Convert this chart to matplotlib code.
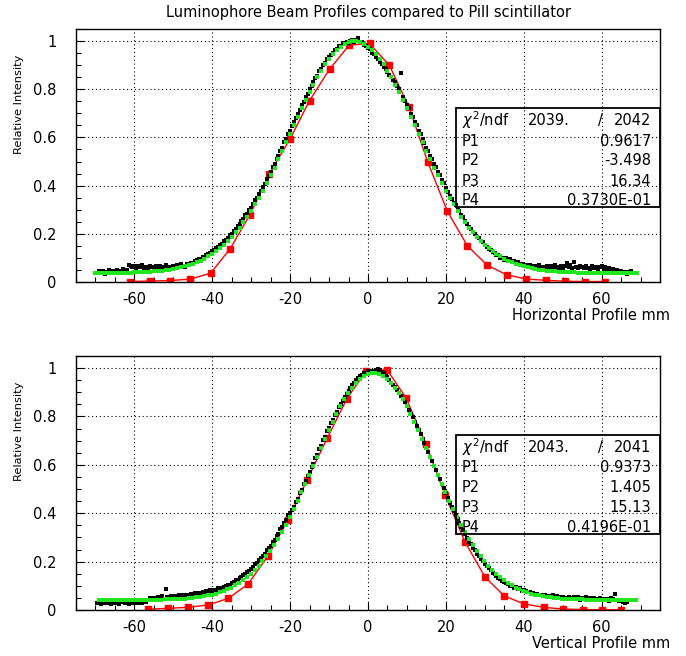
import numpy as np
import matplotlib
matplotlib.use('Agg')
import matplotlib.pyplot as plt
from matplotlib.ticker import MultipleLocator, FuncFormatter

# ---------------- data ----------------
title = 'Luminophore Beam Profiles compared to Pill scintillator'

# horizontal profile (top)
h_black_x = np.arange(-69.5, 68.0, 0.5)
h_black_y = [
    0.036, 0.044, 0.040, 0.047, 0.035, 0.043, 0.049, 0.038, 0.045, 0.041,
    0.048, 0.039, 0.046, 0.052, 0.043, 0.050, 0.072, 0.066, 0.061, 0.068,
    0.058, 0.066, 0.061, 0.070, 0.057, 0.064, 0.059, 0.067, 0.062, 0.056,
    0.065, 0.060, 0.068, 0.057, 0.063, 0.071, 0.059, 0.064, 0.061, 0.067,
    0.062, 0.069, 0.066, 0.073, 0.068, 0.064, 0.074, 0.070, 0.077, 0.079,
    0.086, 0.090, 0.094, 0.097, 0.105, 0.104, 0.113, 0.117, 0.121, 0.128,
    0.133, 0.142, 0.145, 0.155, 0.158, 0.169, 0.176, 0.181, 0.193, 0.199,
    0.213, 0.219, 0.233, 0.240, 0.254, 0.260, 0.276, 0.284, 0.300, 0.309,
    0.322, 0.339, 0.349, 0.366, 0.378, 0.396, 0.407, 0.427, 0.439, 0.458,
    0.476, 0.488, 0.509, 0.522, 0.543, 0.557, 0.579, 0.592, 0.614, 0.628,
    0.646, 0.664, 0.679, 0.699, 0.714, 0.734, 0.748, 0.768, 0.782, 0.799,
    0.815, 0.828, 0.846, 0.857, 0.875, 0.885, 0.901, 0.910, 0.926, 0.932,
    0.944, 0.950, 0.962, 0.966, 0.978, 0.979, 0.990, 0.986, 0.997, 0.993,
    0.999, 1.003, 0.994, 1.006, 1.012, 0.996, 0.998, 0.985, 0.978, 0.972,
    0.966, 0.951, 0.948, 0.934, 0.927, 0.911, 0.905, 0.893, 0.884, 0.872,
    0.861, 0.852, 0.838, 0.829, 0.812, 0.799, 0.869, 0.766, 0.752, 0.733,
    0.721, 0.699, 0.685, 0.663, 0.650, 0.628, 0.614, 0.592, 0.578, 0.557,
    0.543, 0.522, 0.509, 0.488, 0.476, 0.455, 0.443, 0.423, 0.411, 0.392,
    0.375, 0.355, 0.346, 0.328, 0.318, 0.301, 0.293, 0.276, 0.268, 0.253,
    0.240, 0.229, 0.221, 0.207, 0.201, 0.188, 0.183, 0.170, 0.166, 0.155,
    0.146, 0.137, 0.134, 0.124, 0.121, 0.113, 0.111, 0.101, 0.100, 0.093,
    0.098, 0.092, 0.094, 0.086, 0.087, 0.079, 0.082, 0.074, 0.076, 0.068,
    0.072, 0.064, 0.069, 0.061, 0.067, 0.059, 0.066, 0.070, 0.058, 0.064,
    0.061, 0.068, 0.057, 0.065, 0.059, 0.071, 0.062, 0.056, 0.066, 0.060,
    0.067, 0.079, 0.063, 0.070, 0.058, 0.082, 0.064, 0.059, 0.068, 0.061,
    0.057, 0.065, 0.060, 0.054, 0.066, 0.058, 0.063, 0.055, 0.061, 0.068,
    0.056, 0.062, 0.051, 0.058, 0.047, 0.053, 0.044, 0.049, 0.041, 0.046,
    0.038, 0.043, 0.035, 0.041, 0.046,
]
h_fit_x = np.arange(-70, 70, 1.0)
h_fit_y = [
    0.0376, 0.0377, 0.0377, 0.0378, 0.0379, 0.0381, 0.0383, 0.0386, 0.0389, 0.0393,
    0.0397, 0.0403, 0.0410, 0.0418, 0.0428, 0.0440, 0.0454, 0.0471, 0.0491, 0.0514,
    0.0541, 0.0572, 0.0609, 0.0651, 0.0700, 0.0755, 0.0819, 0.0891, 0.0972, 0.1064,
    0.1167, 0.1281, 0.1408, 0.1549, 0.1703, 0.1873, 0.2057, 0.2258, 0.2474, 0.2706,
    0.2955, 0.3219, 0.3498, 0.3792, 0.4100, 0.4420, 0.4751, 0.5091, 0.5439, 0.5793,
    0.6149, 0.6506, 0.6860, 0.7209, 0.7550, 0.7880, 0.8196, 0.8495, 0.8773, 0.9028,
    0.9258, 0.9460, 0.9632, 0.9772, 0.9878, 0.9950, 0.9986, 0.9986, 0.9950, 0.9878,
    0.9772, 0.9632, 0.9460, 0.9258, 0.9028, 0.8773, 0.8495, 0.8196, 0.7880, 0.7550,
    0.7209, 0.6860, 0.6506, 0.6149, 0.5793, 0.5439, 0.5091, 0.4751, 0.4420, 0.4100,
    0.3792, 0.3498, 0.3219, 0.2955, 0.2706, 0.2474, 0.2258, 0.2057, 0.1873, 0.1703,
    0.1549, 0.1408, 0.1281, 0.1167, 0.1064, 0.0972, 0.0891, 0.0819, 0.0755, 0.0700,
    0.0651, 0.0609, 0.0572, 0.0541, 0.0514, 0.0491, 0.0471, 0.0454, 0.0440, 0.0428,
    0.0418, 0.0410, 0.0403, 0.0397, 0.0393, 0.0389, 0.0386, 0.0383, 0.0381, 0.0379,
    0.0378, 0.0377, 0.0377, 0.0376, 0.0375, 0.0375, 0.0374, 0.0374, 0.0374, 0.0374,
]
h_pill_x = [-61.1, -56.0, -50.8, -45.6, -40.4, -35.4, -30.3, -25.3, -20.0, -15.0, -9.8, -4.8,
            0.4, 5.5, 10.5, 15.3, 20.4, 25.5, 30.6, 35.6, 40.7, 45.8, 50.7, 55.8, 60.9]
h_pill_y = [0.002, 0.004, 0.006, 0.012, 0.037, 0.138, 0.280, 0.450, 0.594, 0.753, 0.885, 0.983,
            0.990, 0.899, 0.727, 0.500, 0.293, 0.151, 0.070, 0.030, 0.012, 0.007, 0.003, 0.002, 0.002]
h_stats = ['2039.', '2042', '0.9617', '-3.498', '16.34', '0.3730E-01']

# vertical profile (bottom)
v_black_x = np.arange(-69.5, 67.0, 0.5)
v_black_y = [
    0.028, 0.034, 0.025, 0.031, 0.036, 0.027, 0.033, 0.024, 0.030, 0.035,
    0.029, 0.026, 0.033, 0.037, 0.028, 0.032, 0.025, 0.031, 0.034, 0.027,
    0.033, 0.029, 0.036, 0.031, 0.038, 0.034, 0.041, 0.048, 0.044, 0.051,
    0.046, 0.053, 0.049, 0.056, 0.047, 0.088, 0.055, 0.050, 0.058, 0.052,
    0.057, 0.051, 0.060, 0.054, 0.062, 0.056, 0.064, 0.059, 0.067, 0.061,
    0.069, 0.063, 0.071, 0.066, 0.074, 0.070, 0.078, 0.073, 0.081, 0.077,
    0.084, 0.082, 0.089, 0.087, 0.093, 0.096, 0.098, 0.103, 0.104, 0.110,
    0.116, 0.124, 0.126, 0.134, 0.137, 0.145, 0.148, 0.158, 0.162, 0.171,
    0.178, 0.189, 0.195, 0.206, 0.214, 0.225, 0.233, 0.246, 0.256, 0.266,
    0.281, 0.288, 0.306, 0.314, 0.333, 0.342, 0.361, 0.372, 0.392, 0.402,
    0.414, 0.426, 0.448, 0.460, 0.482, 0.495, 0.519, 0.532, 0.553, 0.571,
    0.591, 0.604, 0.628, 0.642, 0.666, 0.679, 0.703, 0.716, 0.739, 0.752,
    0.774, 0.786, 0.808, 0.820, 0.838, 0.852, 0.866, 0.881, 0.893, 0.904,
    0.918, 0.931, 0.939, 0.950, 0.957, 0.966, 0.970, 0.978, 0.980, 0.986,
    0.983, 0.990, 0.986, 0.993, 0.997, 0.992, 0.985, 0.979, 0.968, 0.962,
    0.951, 0.939, 0.932, 0.920, 0.911, 0.897, 0.886, 0.871, 0.859, 0.843,
    0.828, 0.810, 0.796, 0.777, 0.762, 0.743, 0.726, 0.707, 0.690, 0.670,
    0.652, 0.632, 0.615, 0.594, 0.577, 0.557, 0.540, 0.519, 0.503, 0.483,
    0.461, 0.444, 0.426, 0.409, 0.393, 0.376, 0.361, 0.345, 0.331, 0.315,
    0.297, 0.283, 0.271, 0.257, 0.246, 0.233, 0.223, 0.210, 0.201, 0.190,
    0.182, 0.173, 0.165, 0.155, 0.149, 0.140, 0.134, 0.127, 0.121, 0.114,
    0.112, 0.109, 0.101, 0.100, 0.093, 0.094, 0.086, 0.089, 0.080, 0.083,
    0.078, 0.074, 0.075, 0.069, 0.071, 0.065, 0.068, 0.061, 0.064, 0.058,
    0.062, 0.056, 0.059, 0.053, 0.061, 0.050, 0.057, 0.052, 0.049, 0.055,
    0.051, 0.046, 0.054, 0.049, 0.044, 0.052, 0.047, 0.055, 0.043, 0.050,
    0.046, 0.053, 0.044, 0.049, 0.042, 0.051, 0.045, 0.040, 0.048, 0.043,
    0.047, 0.041, 0.045, 0.039, 0.050, 0.044, 0.068, 0.042, 0.036, 0.040,
    0.033, 0.028, 0.035,
]
v_fit_x = np.arange(-69.1, 69.0, 1.0)
v_fit_y = [
    0.0420, 0.0420, 0.0420, 0.0420, 0.0420, 0.0420, 0.0421, 0.0421, 0.0422, 0.0422,
    0.0423, 0.0424, 0.0425, 0.0427, 0.0428, 0.0431, 0.0434, 0.0438, 0.0442, 0.0448,
    0.0455, 0.0464, 0.0475, 0.0487, 0.0503, 0.0521, 0.0544, 0.0570, 0.0601, 0.0637,
    0.0680, 0.0730, 0.0788, 0.0854, 0.0930, 0.1017, 0.1116, 0.1228, 0.1353, 0.1493,
    0.1648, 0.1820, 0.2010, 0.2217, 0.2441, 0.2685, 0.2946, 0.3225, 0.3522, 0.3835,
    0.4163, 0.4504, 0.4858, 0.5221, 0.5591, 0.5966, 0.6341, 0.6715, 0.7083, 0.7441,
    0.7787, 0.8116, 0.8424, 0.8709, 0.8966, 0.9193, 0.9387, 0.9545, 0.9666, 0.9747,
    0.9788, 0.9788, 0.9747, 0.9666, 0.9545, 0.9387, 0.9193, 0.8966, 0.8709, 0.8424,
    0.8116, 0.7787, 0.7441, 0.7083, 0.6715, 0.6341, 0.5966, 0.5591, 0.5221, 0.4858,
    0.4504, 0.4163, 0.3835, 0.3522, 0.3225, 0.2946, 0.2685, 0.2441, 0.2217, 0.2010,
    0.1820, 0.1648, 0.1493, 0.1353, 0.1228, 0.1116, 0.1017, 0.0930, 0.0854, 0.0788,
    0.0730, 0.0680, 0.0637, 0.0601, 0.0570, 0.0544, 0.0521, 0.0503, 0.0487, 0.0475,
    0.0464, 0.0455, 0.0448, 0.0442, 0.0438, 0.0434, 0.0431, 0.0428, 0.0427, 0.0425,
    0.0424, 0.0423, 0.0422, 0.0422, 0.0421, 0.0421, 0.0420, 0.0420, 0.0420,
]
v_pill_x = [-56.6, -51.4, -46.2, -41.0, -35.9, -30.8, -25.7, -20.5, -15.6, -10.5, -5.4, -0.4,
            4.9, 9.8, 14.9, 19.8, 24.9, 30.0, 35.0, 40.1, 45.2, 50.1, 55.1, 60.2, 65.1]
v_pill_y = [0.003, 0.007, 0.011, 0.021, 0.048, 0.107, 0.223, 0.374, 0.539, 0.709, 0.874, 0.990,
            0.993, 0.876, 0.685, 0.475, 0.282, 0.138, 0.058, 0.025, 0.011, 0.004, 0.002, 0.001, 0.001]
v_stats = ['2043.', '2041', '0.9373', '1.405', '15.13', '0.4196E-01']

# ---------------- figure ----------------
W, H = 686, 656
fig = plt.figure(figsize=(W / 100, H / 100), dpi=100)
plt.rcParams['font.family'] = 'DejaVu Sans'
plt.rcParams['axes.unicode_minus'] = False
FS = 10.5


def fx(px):
    return px / W


def fy(py):
    return 1 - py / H


def panel(top, bottom, bx, by, fx_, fy_, px_, py_, stats, xlabel):
    ax = fig.add_axes([fx(76), fy(bottom), fx(660) - fx(76), fy(top) - fy(bottom)])
    ax.plot(px_, py_, color='red', lw=1.0, zorder=2)
    ax.plot(px_, py_, 's', color='red', ms=5, mec='red', zorder=2)
    ax.plot(bx, by, 's', color='black', ms=3.3, mew=0, zorder=3)
    ax.plot(fx_, fy_, 's', color='#1fe61f', ms=2.6, mew=0, zorder=4)
    ax.set_xlim(-75, 75)
    ax.set_ylim(0, 1.05)
    ax.xaxis.set_major_locator(MultipleLocator(20))
    ax.xaxis.set_minor_locator(MultipleLocator(5))
    ax.yaxis.set_major_locator(MultipleLocator(0.2))
    ax.yaxis.set_minor_locator(MultipleLocator(0.05))
    ax.yaxis.set_major_formatter(FuncFormatter(lambda v, p: '%g' % round(v, 2)))
    ax.tick_params(which='both', direction='in', top=False, right=False, width=0.8,
                   labelsize=FS, color='black')
    ax.tick_params(which='major', length=6)
    ax.tick_params(which='minor', length=3.5)
    ax.tick_params(axis='x', pad=7)
    ax.tick_params(axis='y', pad=14)
    ax.grid(True, which='major', color='black', ls=(0, (1, 2.5)), lw=0.8)
    for s in ax.spines.values():
        s.set_linewidth(1.0)
    fig.text(fx(670), fy(bottom + 34), xlabel, ha='right', va='center', fontsize=FS)
    fig.text(fx(19), fy(top + 26), 'Relative Intensity', rotation=90, ha='center',
             va='top', fontsize=8.2)
    # stats box
    btop = top + 79
    bbot = btop + 99
    fig.patches.append(plt.Rectangle((fx(456), fy(bbot)), fx(660) - fx(456), fy(btop) - fy(bbot),
                                     transform=fig.transFigure, fill=False, ec='black', lw=1.3))
    rows = [r'$\chi^2$/ndf', 'P1', 'P2', 'P3', 'P4']
    offs = [12.5, 33, 53, 73, 92.5]
    for lab, off in zip(rows, offs):
        fig.text(fx(462), fy(btop + off), lab, ha='left', va='center', fontsize=FS)
    fig.text(fx(528), fy(btop + offs[0]), stats[0], ha='left', va='center', fontsize=FS)
    fig.text(fx(600), fy(btop + offs[0]), '/', ha='center', va='center', fontsize=FS)
    fig.text(fx(651), fy(btop + offs[0]), stats[1], ha='right', va='center', fontsize=FS)
    for i in range(4):
        fig.text(fx(651), fy(btop + offs[i + 1]), stats[i + 2], ha='right', va='center',
                 fontsize=FS)
    return ax


panel(29, 282, h_black_x, h_black_y, h_fit_x, h_fit_y, h_pill_x, h_pill_y, h_stats,
      'Horizontal Profile mm')
panel(356, 610, v_black_x, v_black_y, v_fit_x, v_fit_y, v_pill_x, v_pill_y, v_stats,
      'Vertical Profile mm')

fig.text(fx(368), fy(12), title, ha='center', va='center', fontsize=FS)

fig.savefig('out.png', dpi=100)
